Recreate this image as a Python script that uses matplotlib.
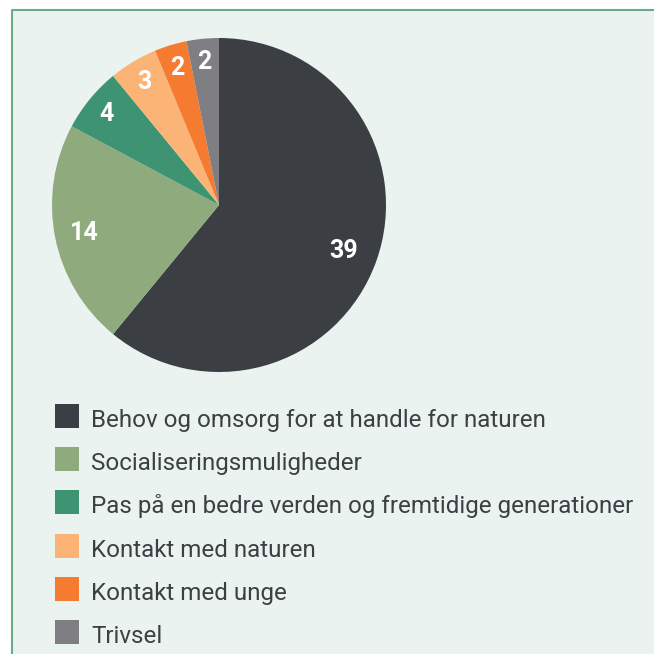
import matplotlib
matplotlib.use("Agg")
import matplotlib.pyplot as plt
from matplotlib.patches import Rectangle
from matplotlib.lines import Line2D
import numpy as np

categories = [
    "Behov og omsorg for at handle for naturen",
    "Socialiseringsmuligheder",
    "Pas på en bedre verden og fremtidige generationer",
    "Kontakt med naturen",
    "Kontakt med unge",
    "Trivsel",
]
values = [39, 14, 4, 3, 2, 2]
colors = ["#3b3f43", "#8fab7d", "#3e9472", "#fbb475", "#f47b30", "#7f7f83"]

W = H = 654
DPI = 100
BG = "#eaf3f0"
TEXT = "#3c4043"

fig = plt.figure(figsize=(W / DPI, H / DPI), dpi=DPI, facecolor="white")

def fx(px):
    return px / W

def fy(py):
    return 1 - py / H

# panel background and border
fig.patches.append(Rectangle((fx(12), 0), 1 - fx(12), fy(10), transform=fig.transFigure,
                             facecolor=BG, edgecolor="none", zorder=-5))
fig.lines.append(Line2D([fx(12), fx(12), 1.0], [0, fy(10), fy(10)], transform=fig.transFigure,
                        color="#6aab89", linewidth=1.5, zorder=-4))

# pie
cx, cy, r = 219, 205, 167
ax = fig.add_axes([fx(cx - r), fy(cy + r), 2 * r / W, 2 * r / H])
ax.set_zorder(2)
ax.set_facecolor("none")
wedges, _ = ax.pie(values, colors=colors, startangle=90, counterclock=False,
                   radius=1.0, wedgeprops=dict(linewidth=0))
ax.set_xlim(-1, 1)
ax.set_ylim(-1, 1)
ax.set_aspect("equal")
ax.axis("off")

label_r = [0.79, 0.82, 0.87, 0.87, 0.87, 0.87]
for w, v, lr in zip(wedges, values, label_r):
    ang = np.deg2rad((w.theta1 + w.theta2) / 2)
    ax.text(lr * np.cos(ang), lr * np.sin(ang) - 0.01, str(v), ha="center", va="center",
            color="white", fontsize=18, fontweight="bold", family="Roboto")

# legend
row0, step = 416, 43.2
for i, (lab, col) in enumerate(zip(categories, colors)):
    yc = row0 + i * step
    fig.patches.append(Rectangle((fx(55), fy(yc + 12)), 24 / W, 24 / H,
                                 transform=fig.transFigure, facecolor=col,
                                 edgecolor="none", zorder=2))
    fig.text(fx(91), fy(yc + 11), lab, ha="left", va="baseline", color=TEXT,
             fontsize=17.4, family="Roboto")

fig.savefig("out.png", dpi=DPI, facecolor="white")
